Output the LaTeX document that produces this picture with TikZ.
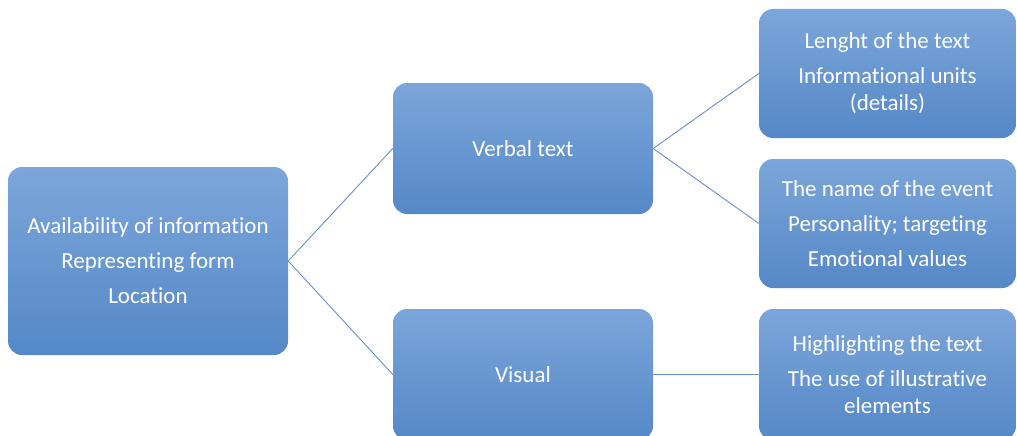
\documentclass[tikz,border=0pt]{standalone}
\usepackage{fontspec}
\setmainfont[Ligatures=NoCommon]{Carlito}
\definecolor{boxtop}{RGB}{124,166,218}
\definecolor{boxbot}{RGB}{84,136,199}
\definecolor{linkc}{RGB}{100,145,205}
\tikzset{
  box/.style={rectangle, rounded corners=14pt, top color=boxtop, bottom color=boxbot,
    draw=none, text=white, align=center, inner sep=4pt,
    font=\fontsize{23}{27}\selectfont},
  link/.style={draw=linkc, line width=0.9pt}
}
\begin{document}
\begin{tikzpicture}[x=1pt,y=-1pt]
\useasboundingbox (0,0) rectangle (1017,436);
\clip (0,0) rectangle (1017,436);
\node[box, minimum width=280pt, minimum height=188pt] (root) at (148,261)
  {Availability of information\\[8pt]Representing form\\[8pt]Location};
\node[box, minimum width=260pt, minimum height=131pt] (verbal) at (523,148.5) {Verbal text};
\node[box, minimum width=260pt, minimum height=131pt] (visual) at (523,374.5) {Visual};
\node[box, minimum width=257pt, minimum height=129pt] (r1) at (887.5,73.5)
  {Lenght of the text\\[8pt]Informational units\\(details)};
\node[box, minimum width=257pt, minimum height=129pt] (r2) at (887.5,223.5)
  {The name of the event\\[8pt]Personality; targeting\\[8pt]Emotional values};
\node[box, minimum width=257pt, minimum height=131pt] (r3) at (887.5,374.5)
  {Highlighting the text\\[8pt]The use of illustrative\\elements};
\draw[link] (root.east) -- (verbal.west);
\draw[link] (root.east) -- (visual.west);
\draw[link] (verbal.east) -- (r1.west);
\draw[link] (verbal.east) -- (r2.west);
\draw[link] (visual.east) -- (r3.west);
\end{tikzpicture}
\end{document}
